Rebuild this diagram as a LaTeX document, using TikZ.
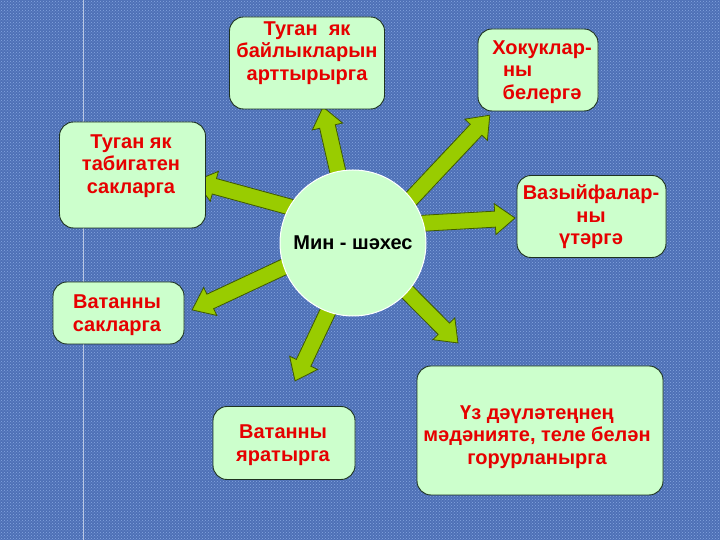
\documentclass[tikz,border=0pt]{standalone}
\usepackage{fontspec}
\setmainfont{Liberation Sans}
\usetikzlibrary{calc,patterns}
\definecolor{bgblue}{HTML}{4E70B6}
\definecolor{bgdot}{HTML}{86A6E0}
\definecolor{boxgreen}{HTML}{CCFFCC}
\definecolor{arrgreen}{HTML}{99CC00}
\definecolor{arredge}{HTML}{3F5A00}
\definecolor{txtred}{HTML}{E60000}
\definecolor{boxedge}{HTML}{1E3320}
\pgfdeclarelayer{arrows}
\pgfdeclarelayer{bg}
\pgfsetlayers{bg,arrows,main}
\newcommand{\blockarrow}[2]{%
  \path let \p1=(#1), \p2=(#2), \n1={atan2(\y2-\y1,\x2-\x1)}, \n2={veclen(\x2-\x1,\y2-\y1)} in \pgfextra{\xdef\baang{\n1}\xdef\balen{\n2}};
  \begin{pgfonlayer}{arrows}
    \draw[blockarr, shift={(#1)}, rotate=\baang] (0,-8) -- ({\balen-20},-8) -- ({\balen-20},-15.5) -- ({\balen},0) -- ({\balen-20},15.5) -- ({\balen-20},8) -- (0,8) -- cycle;
  \end{pgfonlayer}}
\tikzset{
  box/.style={rectangle, rounded corners=14pt, fill=boxgreen, draw=boxedge, line width=0.9pt, inner sep=0pt},
  txt/.style={text=txtred, align=center, font=\fontsize{20}{22.5}\selectfont\bfseries, inner sep=0pt},
  blockarr/.style={fill=arrgreen, draw=arredge, line width=0.8pt, line join=miter},
}
\begin{document}
\begin{tikzpicture}[x=1pt, y=1pt]
\useasboundingbox (0,0) rectangle (720,540);
\begin{pgfonlayer}{bg}
  \fill[bgblue] (0,0) rectangle (720,540);
  \fill[pattern=crosshatch dots, pattern color=bgdot] (0,0) rectangle (720,540);
  \draw[white, opacity=0.6, line width=0.8pt] (83,0) -- (83,540);
\end{pgfonlayer}
% centre
\node[circle, fill=boxgreen, draw=white, line width=1pt, minimum size=146pt, inner sep=0pt,
      font=\fontsize{20}{22}\selectfont\bfseries] (c) at (353,297) {Мин - шәхес};
% boxes
\node[box, minimum width=155pt, minimum height=92pt] (b1) at (307,477) {};
\node[box, minimum width=120pt, minimum height=82pt] (b2) at (538,470) {};
\node[box, minimum width=146pt, minimum height=106pt] (b3) at (132.5,365) {};
\node[box, minimum width=149pt, minimum height=82pt] (b4) at (591.5,323.5) {};
\node[box, minimum width=131pt, minimum height=62pt] (b5) at (118.5,227) {};
\node[box, minimum width=142pt, minimum height=73pt] (b6) at (284,97) {};
\node[box, minimum width=246pt, minimum height=129pt] (b7) at (540,109.5) {};
% texts
\node[txt] (t1) at (307,487) {Туган\ \ як\\байлыкларын\\арттырырга};
\node[txt] (t2) at (542,468) {Хокуклар-\\\makebox[78pt][l]{ны}\\белергә};
\node[txt] (t3) at (131,374) {Туган як\\табигатен\\сакларга};
\node[txt] (t4) at (591,323) {Вазыйфалар-\\ны\\үтәргә};
\node[txt] (t5) at (117,225) {Ватанны\\сакларга};
\node[txt] (t6) at (283,95) {Ватанны\\яратырга};
\node[txt] (t7) at (537,103) {Үз дәүләтеңнең\\мәдәнияте, теле белән\\горурланырга};
% arrow ends
\coordinate (s1) at ($(c.center)!0.97!(c.102)$);
\coordinate (e1) at (323,433);
\coordinate (s2) at ($(c.center)!0.97!(c.37)$);
\coordinate (e2) at (490,425);
\coordinate (s3) at ($(c.center)!0.97!(c.150)$);
\coordinate (e3) at (195,359);
\coordinate (s4) at ($(c.center)!0.97!(c.16)$);
\coordinate (e4) at (515,322);
\coordinate (s5) at ($(c.center)!0.97!(c.199)$);
\coordinate (e5) at (192,230);
\coordinate (s6) at ($(c.center)!0.97!(c.250)$);
\coordinate (e6) at (295,159);
\coordinate (s7) at ($(c.center)!0.97!(c.318)$);
\coordinate (e7) at (458,197);
\blockarrow{s1}{e1}
\blockarrow{s2}{e2}
\blockarrow{s3}{e3}
\blockarrow{s4}{e4}
\blockarrow{s5}{e5}
\blockarrow{s6}{e6}
\blockarrow{s7}{e7}
\end{tikzpicture}
\end{document}
